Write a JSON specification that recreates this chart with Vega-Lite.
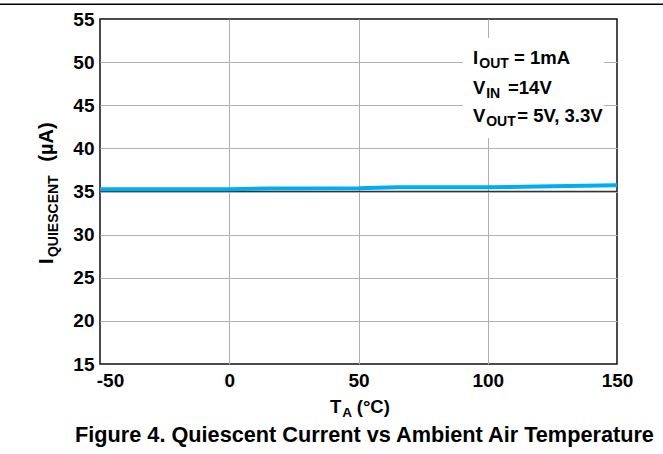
{
  "$schema": "https://vega.github.io/schema/vega-lite/v6.json",
  "width": 517,
  "height": 345,
  "autosize": {"type": "none"},
  "padding": {"left": 100, "top": 19, "right": 46, "bottom": 90},
  "background": "white",
  "config": {
    "view": {"stroke": "#111111", "strokeWidth": 1.5},
    "font": "Liberation Sans",
    "text": {"font": "Liberation Sans", "fontWeight": "bold", "color": "#000000", "align": "left", "baseline": "alphabetic"}
  },
  "layer": [
    {
      "data": {
        "values": [
          {"temp": -50, "iq": 35.02, "vout": "3.3V"},
          {"temp": 0, "iq": 35.02, "vout": "3.3V"},
          {"temp": 50, "iq": 35.02, "vout": "3.3V"},
          {"temp": 100, "iq": 35.02, "vout": "3.3V"},
          {"temp": 150, "iq": 35.02, "vout": "3.3V"},
          {"temp": -50, "iq": 35.25, "vout": "5V"},
          {"temp": -25, "iq": 35.25, "vout": "5V"},
          {"temp": 0, "iq": 35.25, "vout": "5V"},
          {"temp": 15, "iq": 35.36, "vout": "5V"},
          {"temp": 50, "iq": 35.37, "vout": "5V"},
          {"temp": 65, "iq": 35.5, "vout": "5V"},
          {"temp": 100, "iq": 35.5, "vout": "5V"},
          {"temp": 125, "iq": 35.6, "vout": "5V"},
          {"temp": 150, "iq": 35.72, "vout": "5V"}
        ]
      },
      "mark": {"type": "line"},
      "encoding": {
        "x": {
          "field": "temp", "type": "quantitative",
          "scale": {"domain": [-50, 150], "nice": false},
          "axis": {
            "title": null, "values": [-50, 0, 50, 100, 150],
            "labelExpr": "datum.value + ''",
            "domain": false, "ticks": false,
            "labelFont": "Liberation Sans", "labelFontSize": 19, "labelFontWeight": "bold", "labelColor": "#000000",
            "labelPadding": 7, "labelOverlap": false, "labelBound": false, "labelFlush": false,
            "labelOffset": {"condition": {"test": "datum.value == -50", "value": 10}, "value": 0},
            "gridColor": {"condition": {"test": "datum.value == -50 || datum.value == 150", "value": "transparent"}, "value": "#b0b0b0"},
            "gridWidth": 1
          }
        },
        "y": {
          "field": "iq", "type": "quantitative",
          "scale": {"domain": [15, 55], "nice": false, "zero": false},
          "axis": {
            "title": null, "values": [15, 20, 25, 30, 35, 40, 45, 50, 55],
            "domain": false, "ticks": false,
            "labelFont": "Liberation Sans", "labelFontSize": 19, "labelFontWeight": "bold", "labelColor": "#000000",
            "labelPadding": 6, "labelOverlap": false, "labelBound": false, "labelFlush": false,
            "gridColor": {"condition": {"test": "datum.value == 15 || datum.value == 55", "value": "transparent"}, "value": "#b0b0b0"},
            "gridWidth": 1
          }
        },
        "color": {"field": "vout", "type": "nominal", "scale": {"domain": ["3.3V", "5V"], "range": ["#333333", "#00AEEF"]}, "legend": null},
        "strokeWidth": {"field": "vout", "type": "nominal", "scale": {"domain": ["3.3V", "5V"], "range": [1.2, 4]}, "legend": null}
      }
    },
    {
      "data": {"values": [{"k": 1}]},
      "mark": {"type": "rule", "color": "#000000", "strokeWidth": 1.5},
      "encoding": {
        "x": {"datum": -88.7, "type": "quantitative"},
        "x2": {"datum": 167.8},
        "y": {"datum": 56.7, "type": "quantitative"}
      }
    },
    {
      "data": {"values": [{"k": 1}]},
      "mark": {"type": "rect", "fill": "white"},
      "encoding": {
        "x": {"datum": 90.4, "type": "quantitative"},
        "x2": {"datum": 145},
        "y": {"datum": 41.2, "type": "quantitative"},
        "y2": {"datum": 52.8}
      }
    },
    {
      "data": {"values": [{"t": "I"}]},
      "mark": {"type": "text", "fontSize": 18.5, "dx": 0, "dy": 0},
      "encoding": {"x": {"datum": 94.3, "type": "quantitative"}, "y": {"datum": 49.75, "type": "quantitative"}, "text": {"field": "t"}}
    },
    {
      "data": {"values": [{"t": "OUT"}]},
      "mark": {"type": "text", "fontSize": 14, "dx": 6.3, "dy": 4},
      "encoding": {"x": {"datum": 94.3, "type": "quantitative"}, "y": {"datum": 49.75, "type": "quantitative"}, "text": {"field": "t"}}
    },
    {
      "data": {"values": [{"t": "= 1mA"}]},
      "mark": {"type": "text", "fontSize": 18.5, "dx": 41, "dy": 0},
      "encoding": {"x": {"datum": 94.3, "type": "quantitative"}, "y": {"datum": 49.75, "type": "quantitative"}, "text": {"field": "t"}}
    },
    {
      "data": {"values": [{"t": "V"}]},
      "mark": {"type": "text", "fontSize": 18.5, "dx": 0, "dy": 0},
      "encoding": {"x": {"datum": 94.3, "type": "quantitative"}, "y": {"datum": 46.27, "type": "quantitative"}, "text": {"field": "t"}}
    },
    {
      "data": {"values": [{"t": "IN"}]},
      "mark": {"type": "text", "fontSize": 14, "dx": 13.2, "dy": 4},
      "encoding": {"x": {"datum": 94.3, "type": "quantitative"}, "y": {"datum": 46.27, "type": "quantitative"}, "text": {"field": "t"}}
    },
    {
      "data": {"values": [{"t": "=14V"}]},
      "mark": {"type": "text", "fontSize": 18.5, "dx": 35, "dy": 0},
      "encoding": {"x": {"datum": 94.3, "type": "quantitative"}, "y": {"datum": 46.27, "type": "quantitative"}, "text": {"field": "t"}}
    },
    {
      "data": {"values": [{"t": "V"}]},
      "mark": {"type": "text", "fontSize": 18.5, "dx": 0, "dy": 0},
      "encoding": {"x": {"datum": 94.3, "type": "quantitative"}, "y": {"datum": 43.09, "type": "quantitative"}, "text": {"field": "t"}}
    },
    {
      "data": {"values": [{"t": "OUT"}]},
      "mark": {"type": "text", "fontSize": 14, "dx": 13.2, "dy": 4},
      "encoding": {"x": {"datum": 94.3, "type": "quantitative"}, "y": {"datum": 43.09, "type": "quantitative"}, "text": {"field": "t"}}
    },
    {
      "data": {"values": [{"t": "= 5V, 3.3V"}]},
      "mark": {"type": "text", "fontSize": 18.5, "dx": 44.3, "dy": 0},
      "encoding": {"x": {"datum": 94.3, "type": "quantitative"}, "y": {"datum": 43.09, "type": "quantitative"}, "text": {"field": "t"}}
    },
    {
      "data": {"values": [{"t": "T"}]},
      "mark": {"type": "text", "fontSize": 18.5, "dx": -28.5, "dy": 49},
      "encoding": {"x": {"datum": 50, "type": "quantitative"}, "y": {"datum": 15, "type": "quantitative"}, "text": {"field": "t"}}
    },
    {
      "data": {"values": [{"t": "A"}]},
      "mark": {"type": "text", "fontSize": 13.5, "dx": -16.2, "dy": 53},
      "encoding": {"x": {"datum": 50, "type": "quantitative"}, "y": {"datum": 15, "type": "quantitative"}, "text": {"field": "t"}}
    },
    {
      "data": {"values": [{"t": "(°C)"}]},
      "mark": {"type": "text", "fontSize": 18.5, "dx": -1.7, "dy": 49},
      "encoding": {"x": {"datum": 50, "type": "quantitative"}, "y": {"datum": 15, "type": "quantitative"}, "text": {"field": "t"}}
    },
    {
      "data": {"values": [{"t": "Figure 4. Quiescent Current vs Ambient Air Temperature"}]},
      "mark": {"type": "text", "fontSize": 21.7, "align": "center", "dx": 6, "dy": 78},
      "encoding": {"x": {"datum": 50, "type": "quantitative"}, "y": {"datum": 15, "type": "quantitative"}, "text": {"field": "t"}}
    },
    {
      "data": {"values": [{"t": "I"}]},
      "mark": {"type": "text", "fontSize": 20, "angle": 270, "dx": 0, "dy": -46.7},
      "encoding": {"x": {"datum": -50, "type": "quantitative"}, "y": {"datum": 26.59, "type": "quantitative"}, "text": {"field": "t"}}
    },
    {
      "data": {"values": [{"t": "QUIESCENT"}]},
      "mark": {"type": "text", "fontSize": 14, "angle": 270, "dx": 7, "dy": -42.5},
      "encoding": {"x": {"datum": -50, "type": "quantitative"}, "y": {"datum": 26.59, "type": "quantitative"}, "text": {"field": "t"}}
    },
    {
      "data": {"values": [{"t": "(µA)"}]},
      "mark": {"type": "text", "fontSize": 20, "angle": 270, "dx": 102.3, "dy": -46.7},
      "encoding": {"x": {"datum": -50, "type": "quantitative"}, "y": {"datum": 26.59, "type": "quantitative"}, "text": {"field": "t"}}
    }
  ]
}
